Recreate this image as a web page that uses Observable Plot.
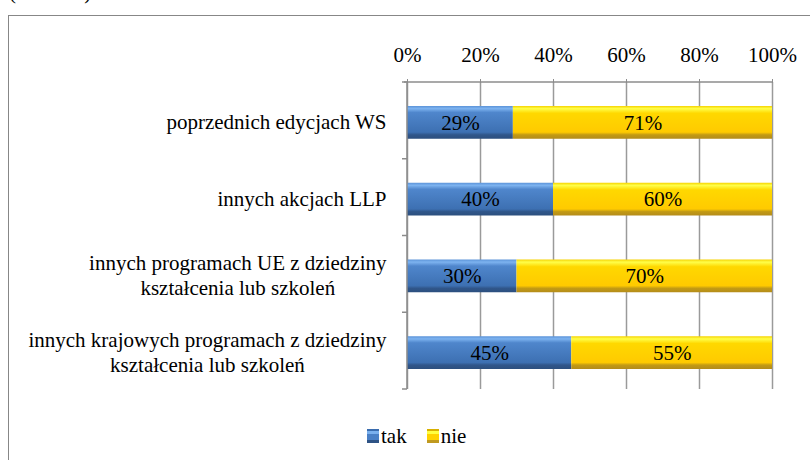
<!DOCTYPE html>
<html><head><meta charset="utf-8">
<script src="https://cdn.jsdelivr.net/npm/d3@7"></script>
<script src="https://cdn.jsdelivr.net/npm/@observablehq/plot@0.6"></script>
<style>
body{margin:0;background:#fff;font-family:'Liberation Serif',serif;}
#wrap{position:relative;width:810px;height:460px;overflow:hidden;font-family:'Liberation Serif',serif;color:#000;}
#frame{position:absolute;left:8px;top:15px;width:900px;height:600px;border:1px solid #878787;box-sizing:border-box;}
#paren{position:absolute;left:9px;top:-20px;font-size:21px;white-space:pre;font-family:'Liberation Serif',serif;}
#chart{position:absolute;left:0;top:0;}
#chart svg, #chart svg text{font-family:'Liberation Serif',serif !important;}
#legend{position:absolute;left:367px;top:424px;font-size:21px;line-height:24px;display:flex;align-items:center;white-space:nowrap;font-family:'Liberation Serif',serif;}
.sw{display:inline-block;width:12px;height:14px;margin-right:2px;}
.lab{margin-right:20px;}
</style></head>
<body><div id="wrap"><div id="frame"></div><div id="paren">(             )</div><div id="chart"></div><div id="legend"></div></div>
<script>
const categories = [
  "poprzednich edycjach WS",
  "innych akcjach LLP",
  "innych programach UE z dziedziny\nkształcenia lub szkoleń",
  "innych krajowych programach z dziedziny\nkształcenia lub szkoleń"
];
const seriesNames = ["tak", "nie"];
const takValues = [29, 40, 30, 45];
const nieValues = [71, 60, 70, 55];
const xTicks = [0, 20, 40, 60, 80, 100];

const rows = categories.flatMap((c, i) => [
  {category: c, series: "tak", value: takValues[i]},
  {category: c, series: "nie", value: nieValues[i]}
]);

const defsMark = () => {
  const d = d3.create("svg:defs");
  const add = (id, stops) => {
    const g = d.append("linearGradient").attr("id", id)
      .attr("x1", 0).attr("y1", 0).attr("x2", 0).attr("y2", 1);
    stops.forEach(([o, c]) => g.append("stop").attr("offset", o).attr("stop-color", c));
  };
  add("gTak", [[0, "#5b93d8"], [0.08, "#7db3f0"], [0.2, "#4f86cc"], [0.8, "#3d70b2"], [0.88, "#30568a"], [1, "#2c4f7e"]]);
  add("gNie", [[0, "#f6d200"], [0.08, "#ffff4a"], [0.22, "#ffd800"], [0.8, "#ffca00"], [0.88, "#c29a14"], [1, "#b48c1a"]]);
  return d.node();
};

const axisLines = (index, scales, values, dims) => {
  const {marginTop, marginBottom, height} = dims;
  const x0 = scales.x(0), x1 = scales.x(100);
  const top = marginTop, bottom = height - marginBottom;
  const step = (bottom - top) / categories.length;
  const g = d3.create("svg:g").attr("stroke", "#8c8c8c").attr("stroke-width", 1.5).attr("fill", "none");
  g.append("path").attr("d", `M${x0 - 3},${top}H${x1}`);
  g.append("path").attr("d", `M${x0},${top}V${bottom}`);
  for (let i = 0; i <= categories.length; i++) {
    g.append("path").attr("d", `M${x0 - 5},${top + i * step}H${x0}`);
  }
  return g.node();
};

const chart = Plot.plot({
  width: 810,
  height: 410,
  marginLeft: 407,
  marginRight: 38,
  marginTop: 82,
  marginBottom: 21,
  style: "font-family:'Liberation Serif',serif;font-size:21px;color:#000;background:transparent;",
  x: {domain: [0, 100]},
  y: {domain: categories, padding: 0, round: false},
  color: {domain: seriesNames, range: ["url(#gTak)", "url(#gNie)"]},
  marks: [
    defsMark,
    Plot.gridX(xTicks, {stroke: "#9a9a9a", strokeOpacity: 1, strokeWidth: 1.5}),
    Plot.axisX({anchor: "top", ticks: xTicks, tickFormat: d => d + "%", tickSize: 4, tickPadding: 17, stroke: "#8c8c8c", label: null, fontSize: 21}),
    Plot.axisY({tickSize: 0, tickPadding: 21, lineHeight: 1.19, label: null, fontSize: 21}),
    Plot.barX(rows, Plot.stackX({x: "value", y: "category", fill: "series", insetTop: 24, insetBottom: 20})),
    axisLines,
    Plot.text(rows, Plot.stackX({x: "value", y: "category", z: "series", text: d => d.value + "%", dy: 2, fill: "#000", fontSize: 21}))
  ]
});
document.getElementById("chart").appendChild(chart);

// center the lines of multi-line category labels within their right-aligned block
chart.querySelectorAll('g[aria-label="y-axis tick label"] text').forEach(t => {
  const spans = t.querySelectorAll("tspan");
  if (spans.length < 2) return;
  let w = 0;
  spans.forEach(s => { w = Math.max(w, s.getComputedTextLength()); });
  const x0 = +(spans[0].getAttribute("x") || 0);
  t.setAttribute("text-anchor", "middle");
  spans.forEach(s => s.setAttribute("x", x0 - w / 2));
});

const legend = document.getElementById("legend");
const swatchBg = {
  tak: "linear-gradient(#3a6cae 0 15%, #7ab0ee 15% 35%, #4a80c6 35% 75%, #2e5385 75%)",
  nie: "linear-gradient(#d8b000 0 15%, #ffff40 15% 35%, #ffd200 35% 75%, #c09a20 75%)"
};
seriesNames.forEach(s => {
  const sw = document.createElement("span");
  sw.className = "sw"; sw.style.background = swatchBg[s];
  const lb = document.createElement("span");
  lb.className = "lab"; lb.textContent = s;
  legend.appendChild(sw); legend.appendChild(lb);
});
</script>
</body></html>
